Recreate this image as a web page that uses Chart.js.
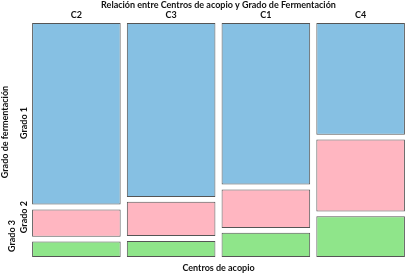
<!DOCTYPE html>
<html>
<head>
<meta charset="utf-8">
<script src="https://cdn.jsdelivr.net/npm/chart.js@4"></script>
<style>
  html, body { margin: 0; padding: 0; background: #fff; }
  #wrap { width: 408px; height: 278px; }
</style>
</head>
<body>
<div id="wrap"><canvas id="chart"></canvas></div>
<script>
// centros de acopio (column order as in the plot)
var centros = ['C2', 'C3', 'C1', 'C4'];
// share (%) of each grado inside every centro
var grado1 = [80.9, 77.5, 72.0, 49.8];
var grado2 = [12.2, 15.3, 17.2, 32.0];
var grado3 = [6.9, 7.2, 10.8, 18.2];
var gradoNames = ['Grado 1', 'Grado 2', 'Grado 3'];

// white gap between tiles, in % units
var GAP = 2.14;
var TOTAL = 100 + 2 * GAP;
var spacer = centros.map(function () { return GAP; });

var FONT = 'Lato, "Open Sans", sans-serif';
var txt = '#111';

function tile(label, values, color) {
  return {
    label: label,
    data: values,
    backgroundColor: color,
    borderColor: '#555',
    borderWidth: 1,
    borderSkipped: false
  };
}
function gap(values) {
  return { label: '', data: values, backgroundColor: 'rgba(0,0,0,0)', borderWidth: 0 };
}

// rotated labels on the left side
var sideLabels = {
  id: 'sideLabels',
  afterDraw: function (chart) {
    var ctx = chart.ctx;
    var y = chart.scales.y;
    var items = [
      { t: 'Grado de fermentación', x: 5.5, py: 132 },
      { t: gradoNames[0], x: 24, py: y.getPixelForValue(59.7) },
      { t: gradoNames[1], x: 24, py: y.getPixelForValue(17.8) },
      { t: gradoNames[2], x: 11.7, py: y.getPixelForValue(9.4) }
    ];
    ctx.save();
    ctx.font = 'bold 9px ' + FONT;
    ctx.fillStyle = txt;
    ctx.textAlign = 'center';
    ctx.textBaseline = 'middle';
    items.forEach(function (it) {
      ctx.save();
      ctx.translate(it.x, it.py);
      ctx.rotate(-Math.PI / 2);
      ctx.fillText(it.t, 0, 0);
      ctx.restore();
    });
    ctx.restore();
  }
};

new Chart(document.getElementById('chart'), {
  type: 'bar',
  data: {
    labels: centros,
    datasets: [
      tile(gradoNames[2], grado3, '#8fe58a'),
      gap(spacer),
      tile(gradoNames[1], grado2, '#ffb6c1'),
      gap(spacer),
      tile(gradoNames[0], grado1, '#86c0e3')
    ]
  },
  options: {
    responsive: true,
    maintainAspectRatio: false,
    animation: false,
    devicePixelRatio: 1,
    layout: { padding: { left: 29, right: 0, top: 0, bottom: 0 } },
    datasets: { bar: { categoryPercentage: 1, barPercentage: 0.935 } },
    plugins: {
      legend: { display: false },
      tooltip: { enabled: false },
      title: {
        display: true,
        text: 'Relación entre Centros de acopio y Grado de Fermentación',
        color: txt,
        font: { family: FONT, size: 9, weight: 'bold', lineHeight: 1.1 },
        padding: { top: 0, bottom: 0 }
      },
      subtitle: {
        display: true,
        position: 'bottom',
        text: 'Centros de acopio',
        color: txt,
        font: { family: FONT, size: 9, weight: 'bold', lineHeight: 1.1 },
        padding: { top: 6, bottom: 5 }
      }
    },
    scales: {
      x: {
        stacked: true,
        position: 'top',
        grid: { display: false, drawTicks: false },
        border: { display: false },
        ticks: { color: txt, padding: 2, font: { family: FONT, size: 9, weight: 'bold' } },
        afterFit: function (s) { s.height = 13; }
      },
      y: {
        stacked: true,
        display: false,
        min: 0,
        max: TOTAL
      }
    }
  },
  plugins: [sideLabels]
});
</script>
</body>
</html>
